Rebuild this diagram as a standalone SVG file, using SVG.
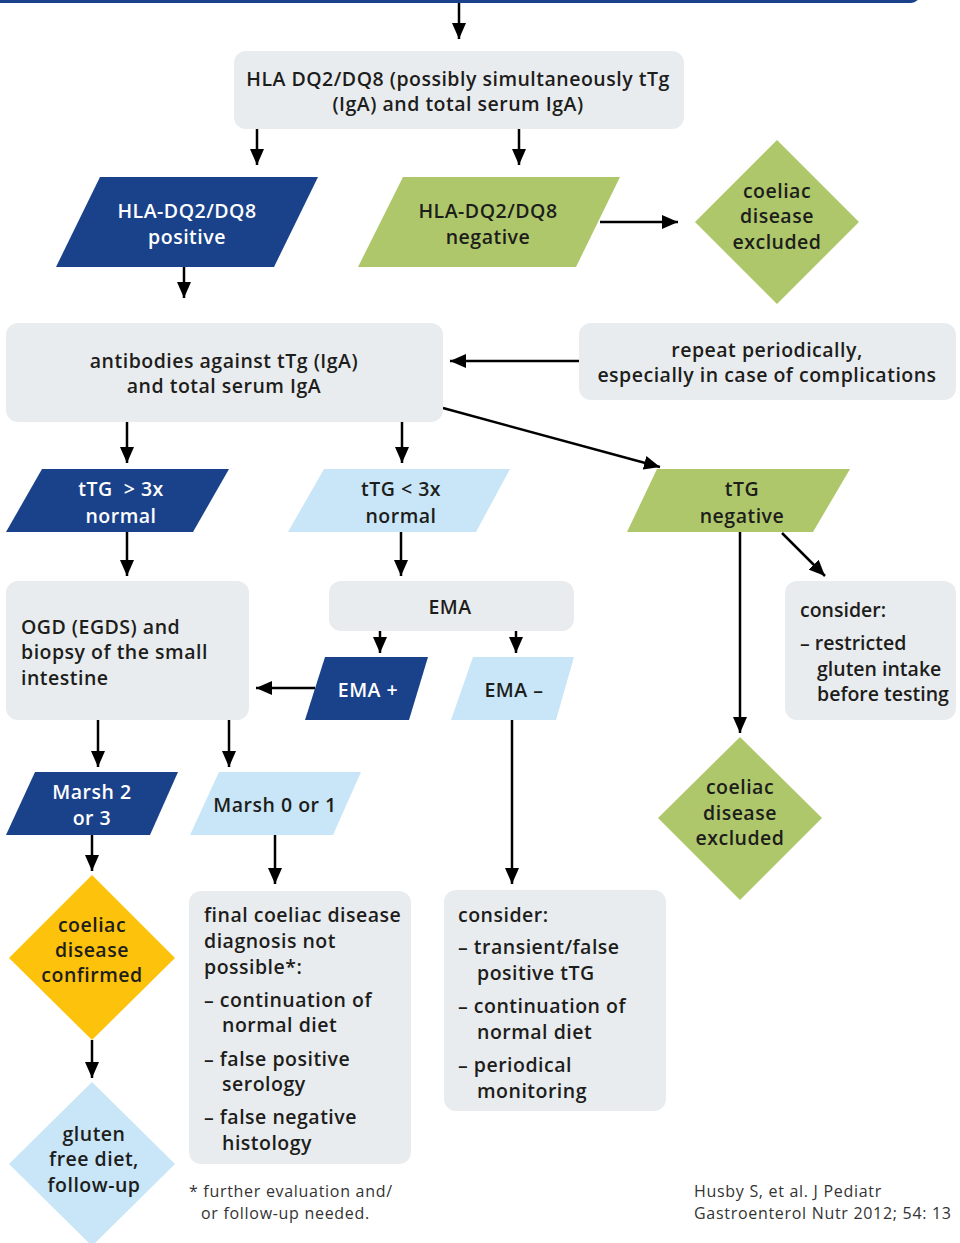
<svg xmlns="http://www.w3.org/2000/svg" width="960" height="1243" viewBox="0 0 960 1243">
<defs>
<marker id="ah" markerUnits="userSpaceOnUse" markerWidth="16" markerHeight="14" refX="16" refY="7" orient="auto">
<path d="M0,0 L16,7 L0,14 z" fill="#000"/>
</marker>
<style>
.t{font-family:"Open Sans",Lato,"Liberation Sans",sans-serif;font-weight:600;font-size:19.5px;letter-spacing:0.5px;fill:#1d1d1b}
.c{text-anchor:middle}
.w{fill:#fff}
.n{letter-spacing:0}
.gray{fill:#e9ecef}
.dblue{fill:#1a428a}
.lblue{fill:#c8e6f8}
.green{fill:#aec76b}
.yellow{fill:#fdc20c}
.note{font-family:"Open Sans",Lato,"Liberation Sans",sans-serif;font-size:16px;letter-spacing:0.7px;fill:#333}
.con line{stroke:#000;stroke-width:2.5;marker-end:url(#ah)}
</style>
</defs>
<rect x="-20" y="-30" width="940" height="33" rx="9" class="dblue"/>

<g class="con">
<line x1="459" y1="3" x2="459" y2="39"/>
<line x1="257" y1="129" x2="257" y2="165"/>
<line x1="519" y1="129" x2="519" y2="165"/>
<line x1="184" y1="267" x2="184" y2="298"/>
<line x1="600" y1="222" x2="678" y2="222"/>
<line x1="579" y1="361" x2="450" y2="361"/>
<line x1="443" y1="408" x2="660" y2="467"/>
<line x1="127" y1="422" x2="127" y2="463"/>
<line x1="402" y1="422" x2="402" y2="463"/>
<line x1="127" y1="532" x2="127" y2="576"/>
<line x1="401" y1="532" x2="401" y2="576"/>
<line x1="740" y1="532" x2="740" y2="733"/>
<line x1="782" y1="533" x2="825" y2="576"/>
<line x1="380" y1="631" x2="380" y2="653"/>
<line x1="516" y1="631" x2="516" y2="653"/>
<line x1="315" y1="688" x2="256" y2="688"/>
<line x1="98" y1="720" x2="98" y2="767"/>
<line x1="229" y1="720" x2="229" y2="767"/>
<line x1="512" y1="720" x2="512" y2="884"/>
<line x1="92" y1="835" x2="92" y2="871"/>
<line x1="275" y1="835" x2="275" y2="884"/>
<line x1="92" y1="1040" x2="92" y2="1078"/>
</g>

<g id="hla-test">
<rect x="234" y="51" width="450" height="78" rx="12" class="gray"/>
<text class="t c" x="458" y="86">HLA DQ2/DQ8 (possibly simultaneously tTg</text>
<text class="t c" x="458" y="111">(IgA) and total serum IgA)</text>
</g>

<g id="hla-pos">
<polygon points="100,177 318,177 274,267 56,267" class="dblue"/>
<text class="t c w" x="187" y="218">HLA-DQ2/DQ8</text>
<text class="t c w" x="187" y="244">positive</text>
</g>

<g id="hla-neg">
<polygon points="403,177 620,177 576,267 358,267" class="green"/>
<text class="t c" x="488" y="218">HLA-DQ2/DQ8</text>
<text class="t c" x="488" y="244">negative</text>
</g>

<g id="excluded1">
<polygon points="777,140 859,222 777,304 695,222" class="green"/>
<text class="t c" x="777" y="198">coeliac</text>
<text class="t c" x="777" y="223">disease</text>
<text class="t c" x="777" y="249">excluded</text>
</g>

<g id="antibodies">
<rect x="6" y="323" width="437" height="99" rx="12" class="gray"/>
<text class="t c" x="224" y="368">antibodies against tTg (IgA)</text>
<text class="t c" x="224" y="393">and total serum IgA</text>
</g>

<g id="repeat">
<rect x="579" y="323" width="377" height="77" rx="12" class="gray"/>
<text class="t c" x="767" y="357">repeat periodically,</text>
<text class="t c" x="767" y="382">especially in case of complications</text>
</g>

<g id="ttg-high">
<polygon points="42,469 229,469 193,532 6,532" class="dblue"/>
<text class="t c w" x="121" y="496" xml:space="preserve">tTG  &gt; 3x</text>
<text class="t c w" x="121" y="523">normal</text>
</g>

<g id="ttg-low">
<polygon points="324,469 510,469 476,532 288,532" class="lblue"/>
<text class="t c" x="401" y="496">tTG &lt; 3x</text>
<text class="t c" x="401" y="523">normal</text>
</g>

<g id="ttg-neg">
<polygon points="657,469 850,469 813,532 627,532" class="green"/>
<text class="t c" x="742" y="496">tTG</text>
<text class="t c" x="742" y="523">negative</text>
</g>

<g id="ogd">
<rect x="6" y="581" width="243" height="139" rx="12" class="gray"/>
<text class="t" x="21" y="634">OGD (EGDS) and</text>
<text class="t" x="21" y="659">biopsy of the small</text>
<text class="t" x="21" y="685">intestine</text>
</g>

<g id="ema">
<rect x="329" y="581" width="245" height="50" rx="12" class="gray"/>
<text class="t c" x="450" y="614">EMA</text>
</g>

<g id="ema-pos">
<polygon points="325,657 428,657 409,720 305,720" class="dblue"/>
<text class="t c w" x="368" y="697">EMA +</text>
</g>

<g id="ema-neg">
<polygon points="473,657 574,657 556,720 451,720" class="lblue"/>
<text class="t c" x="514" y="697">EMA –</text>
</g>

<g id="consider-right">
<rect x="785" y="581" width="171" height="139" rx="12" class="gray"/>
<text class="t n" x="800" y="617">consider:</text>
<text class="t n" x="800" y="650">– restricted</text>
<text class="t n" x="817" y="676">gluten intake</text>
<text class="t n" x="817" y="701">before testing</text>
</g>

<g id="excluded2">
<polygon points="740,737 822,818 740,900 658,818" class="green"/>
<text class="t c" x="740" y="794">coeliac</text>
<text class="t c" x="740" y="820">disease</text>
<text class="t c" x="740" y="845">excluded</text>
</g>

<g id="marsh23">
<polygon points="35,772 178,772 150,835 6,835" class="dblue"/>
<text class="t c w" x="92" y="799">Marsh 2</text>
<text class="t c w" x="92" y="825">or 3</text>
</g>

<g id="marsh01">
<polygon points="219,772 361,772 333,835 190,835" class="lblue"/>
<text class="t c" x="275" y="812">Marsh 0 or 1</text>
</g>

<g id="confirmed">
<polygon points="92,875 175,958 92,1040 9,958" class="yellow"/>
<text class="t c" x="92" y="932">coeliac</text>
<text class="t c" x="92" y="957">disease</text>
<text class="t c" x="92" y="982">confirmed</text>
</g>

<g id="gluten-free">
<polygon points="92,1082 175,1164 92,1246 9,1164" class="lblue"/>
<text class="t c" x="94" y="1141">gluten</text>
<text class="t c" x="94" y="1166">free diet,</text>
<text class="t c" x="94" y="1192">follow-up</text>
</g>

<g id="final">
<rect x="189" y="891" width="222" height="273" rx="12" class="gray"/>
<text class="t" x="204" y="922">final coeliac disease</text>
<text class="t" x="204" y="948">diagnosis not</text>
<text class="t" x="204" y="974">possible*:</text>
<text class="t" x="204" y="1007">– continuation of</text>
<text class="t" x="222" y="1032">normal diet</text>
<text class="t" x="204" y="1066">– false positive</text>
<text class="t" x="222" y="1091">serology</text>
<text class="t" x="204" y="1124">– false negative</text>
<text class="t" x="222" y="1150">histology</text>
</g>

<g id="consider-mid">
<rect x="444" y="890" width="222" height="221" rx="12" class="gray"/>
<text class="t" x="458" y="922">consider:</text>
<text class="t" x="458" y="954">– transient/false</text>
<text class="t" x="477" y="980">positive tTG</text>
<text class="t" x="458" y="1013">– continuation of</text>
<text class="t" x="477" y="1039">normal diet</text>
<text class="t" x="458" y="1072">– periodical</text>
<text class="t" x="477" y="1098">monitoring</text>
</g>

<text class="note" x="189" y="1197">* further evaluation and/</text>
<text class="note" x="201" y="1219">or follow-up needed.</text>
<text class="note" x="694" y="1197">Husby S, et al. J Pediatr</text>
<text class="note" x="694" y="1219">Gastroenterol Nutr 2012; 54: 13</text>
</svg>
